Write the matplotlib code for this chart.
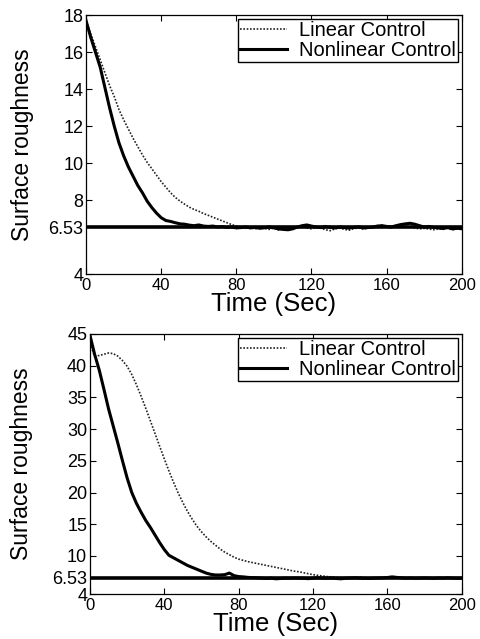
import numpy as np
import matplotlib
matplotlib.use('Agg')
import matplotlib.pyplot as plt

plt.rcParams['font.family'] = ['Liberation Sans', 'DejaVu Sans']

# time grid (sec), one sample every 2.5 s
time = np.arange(0, 200.1, 2.5)
target = 6.53

# top panel
top_linear = [
    17.7, 17.0, 16.3, 15.6, 14.9, 14.2, 13.6, 12.9, 12.35, 11.85,
    11.35, 10.9, 10.45, 10.05, 9.7, 9.35, 9.0, 8.7, 8.4, 8.15,
    7.95, 7.78, 7.62, 7.5, 7.4, 7.28, 7.18, 7.08, 6.98, 6.88,
    6.78, 6.68, 6.6,
    6.55, 6.48, 6.52, 6.45, 6.50, 6.47, 6.42, 6.50, 6.38, 6.45,
    6.40, 6.48, 6.52, 6.58, 6.50, 6.45, 6.52, 6.48, 6.40, 6.35,
    6.45, 6.50, 6.42, 6.38, 6.46, 6.50, 6.44, 6.48, 6.52, 6.58,
    6.65, 6.55, 6.50, 6.60, 6.65, 6.60, 6.55, 6.50, 6.45, 6.48,
    6.44, 6.40, 6.45, 6.42, 6.48, 6.40, 6.44, 6.42,
]
top_nonlinear = [
    17.7, 16.8, 16.0, 15.2, 14.1, 13.0, 12.0, 11.1, 10.4, 9.8,
    9.3, 8.8, 8.4, 7.95, 7.6, 7.3, 7.05, 6.9, 6.85, 6.78,
    6.72, 6.70, 6.65, 6.62, 6.66, 6.60, 6.58, 6.60, 6.55, 6.57,
    6.53, 6.55, 6.50,
    6.52, 6.55, 6.50, 6.53, 6.48, 6.51, 6.56, 6.50, 6.45, 6.42,
    6.40, 6.45, 6.55, 6.62, 6.66, 6.60, 6.55, 6.52, 6.58, 6.53,
    6.50, 6.55, 6.52, 6.49, 6.53, 6.56, 6.50, 6.52, 6.54, 6.60,
    6.62, 6.58, 6.55, 6.62, 6.68, 6.72, 6.75, 6.70, 6.62, 6.55,
    6.58, 6.53, 6.50, 6.47, 6.52, 6.45, 6.48, 6.46,
]

# bottom panel
bot_linear = [
    43.5, 41.5, 41.6, 41.8, 42.0, 41.9, 41.5, 40.8, 39.9, 38.6,
    37.0, 35.2, 33.3, 31.3, 29.3, 27.3, 25.3, 23.4, 21.6, 19.9,
    18.4, 17.0, 15.8, 14.7, 13.8, 13.0, 12.3, 11.7, 11.1, 10.6,
    10.2, 9.8, 9.5,
    9.3, 9.1, 8.95, 8.8, 8.65, 8.5, 8.35, 8.2, 8.05, 7.9,
    7.75, 7.6, 7.5, 7.35, 7.2, 7.05, 6.95, 6.85, 6.75, 6.7,
    6.65, 6.6, 6.62, 6.55, 6.6, 6.7, 6.55, 6.5, 6.52, 6.48,
    6.55, 6.52, 6.5, 6.55, 6.6, 6.52, 6.5, 6.55, 6.5, 6.48,
    6.52, 6.5, 6.55, 6.5, 6.52, 6.5, 6.48, 6.5,
]
bot_nonlinear = [
    44.8, 41.8, 39.3, 36.3, 33.2, 30.5, 27.8, 25.0, 22.3, 20.0,
    18.3, 16.9, 15.6, 14.5, 13.3, 12.1, 11.0, 10.1, 9.7, 9.3,
    8.9, 8.5, 8.2, 7.9, 7.6, 7.3, 7.1, 7.0, 7.0, 7.05,
    7.3, 6.9, 6.75,
    6.7, 6.62, 6.58, 6.55, 6.5, 6.45, 6.5, 6.4, 6.45, 6.5,
    6.48, 6.52, 6.5, 6.47, 6.42, 6.5, 6.55, 6.5, 6.48, 6.52,
    6.45, 6.4, 6.48, 6.52, 6.55, 6.5, 6.48, 6.45, 6.5, 6.52,
    6.55, 6.6, 6.7, 6.62, 6.55, 6.5, 6.52, 6.48, 6.5, 6.53,
    6.5, 6.47, 6.52, 6.5, 6.55, 6.5, 6.48, 6.5,
]

x_ticks = [0, 40, 80, 120, 160, 200]
top_yticks = [4, 6.53, 8, 10, 12, 14, 16, 18]
bot_yticks = [4, 6.53, 10, 15, 20, 25, 30, 35, 40, 45]


def draw_panel(ax, lin, nonlin, yticks, ylim, ylabel_x):
    ax.plot(time, lin, color='#222222', linestyle=(0, (1, 1)), lw=1.2,
            label='Linear Control')
    ax.plot(time, nonlin, color='black', lw=2.2, label='Nonlinear Control')
    ax.axhline(target, color='black', lw=2.6)
    ax.set_xlim(0, 200)
    ax.set_ylim(*ylim)
    ax.set_xticks(x_ticks)
    ax.set_yticks(yticks)
    ax.set_yticklabels(['6.53' if v == 6.53 else str(v) for v in yticks])
    ax.tick_params(direction='in', length=4, width=0.8,
                   top=True, right=True)
    ax.tick_params(axis='x', labelsize=12, pad=3)
    ax.tick_params(axis='y', labelsize=13, pad=2)
    ax.set_xlabel('Time (Sec)', fontsize=18.5, labelpad=-1)
    ax.set_ylabel('Surface roughness', fontsize=16.5)
    ax.yaxis.set_label_coords(ylabel_x, 0.5)
    for sp in ax.spines.values():
        sp.set_linewidth(0.9)
    ax.legend(loc='upper right', fontsize=14.5, frameon=True, fancybox=False,
              edgecolor='black', framealpha=1, borderpad=0.1,
              labelspacing=0.05, handlelength=2.3, handletextpad=0.6,
              borderaxespad=0.2)


fig = plt.figure(figsize=(4.81, 6.39), dpi=100)
ax1 = fig.add_axes([0.179, 0.571, 0.781, 0.405])
ax2 = fig.add_axes([0.187, 0.0704, 0.773, 0.407])

draw_panel(ax1, top_linear, top_nonlinear, top_yticks, (4, 18), -0.14)
draw_panel(ax2, bot_linear, bot_nonlinear, bot_yticks, (4, 45), -0.152)

fig.savefig('out.png', dpi=100)
